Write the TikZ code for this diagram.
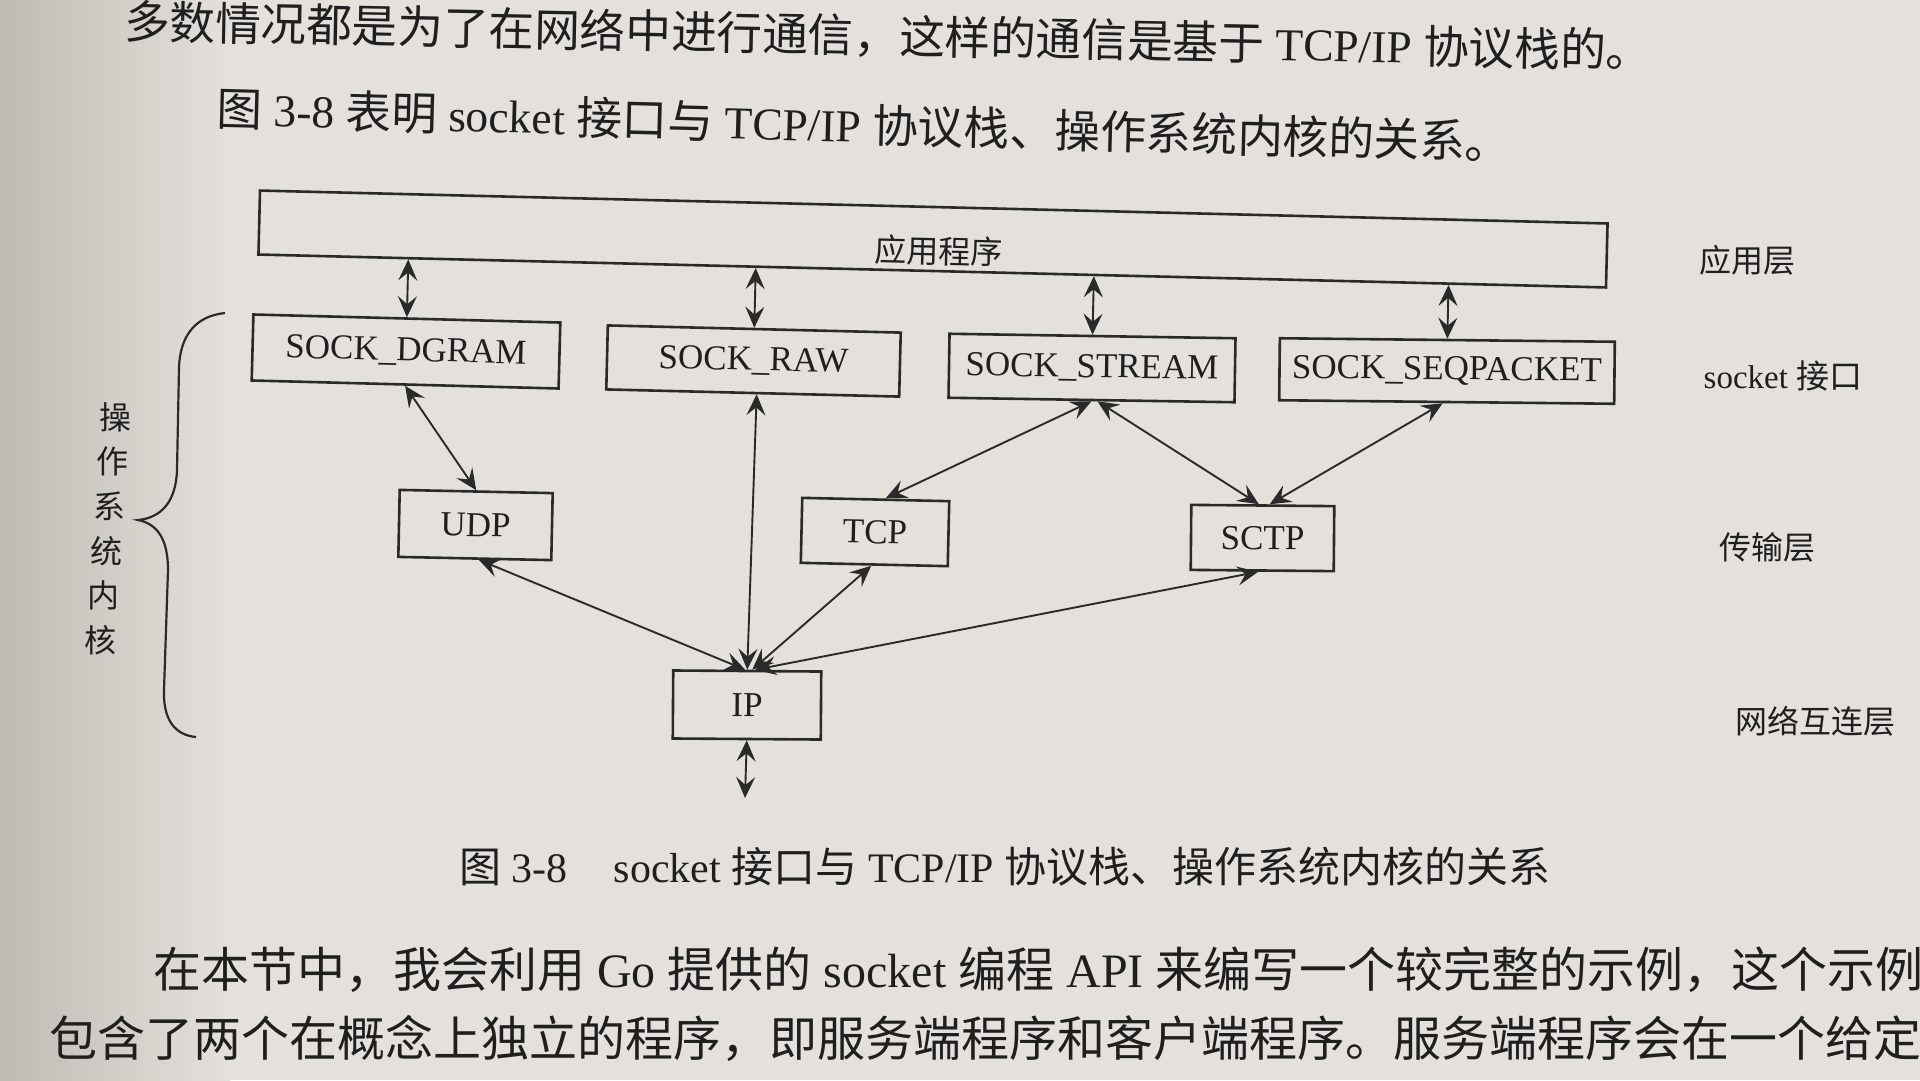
\documentclass[tikz,border=0pt]{standalone}
\usepackage{fontspec}
\setmainfont{Liberation Serif}
\newfontfamily\cjk{Noto Sans CJK SC}
\usetikzlibrary{arrows.meta,calc}
\newcommand\zh[1]{{\cjk #1}}
\newcommand\fsz[1]{\fontsize{#1}{#1}\selectfont}
\definecolor{paper}{HTML}{E4E1DC}
\definecolor{paperdark}{HTML}{BFBAB4}
\definecolor{ink}{HTML}{1F1F1F}
\definecolor{linec}{HTML}{2A2A2A}
\begin{document}
\begin{tikzpicture}[x=1pt,y=-1pt,
  box/.style={draw=linec, line width=2.6pt, inner sep=0pt, text=ink, font=\fsz{35}},
  txt/.style={inner sep=0pt, text=ink},
  dar/.style={draw=linec, line width=1.9pt, >={Stealth[length=21pt,width=19pt,inset=8pt]}, <->}]
\useasboundingbox (0,0) rectangle (1920,1080);
\begin{scope}
\clip (0,0) rectangle (1920,1080);
\fill[paper] (0,0) rectangle (1920,1080);
\shade[left color=paperdark, right color=paper] (0,0) rectangle (230,1080);

% body text
\node[txt, font=\fsz{45.6}, rotate=-1.1] (l1) at (888,36)
  {\zh{多数情况都是为了在网络中进行通信，这样的通信是基于} TCP/IP \zh{协议栈的。}};
\node[txt, font=\fsz{45.6}, rotate=-1.5] (l2) at (864,125)
  {\zh{图} 3-8 \zh{表明} socket \zh{接口与} TCP/IP \zh{协议栈、操作系统内核的关系。}};

% boxes
\node[box, minimum width=1348pt, minimum height=64pt, rotate=-1.4] (app) at (933,239) {};
\node[txt, font={\cjk\fsz{32}}, rotate=-1.4] (applbl) at (939,251) {应用程序};
\node[box, minimum width=307pt, minimum height=66pt, rotate=-1.5] (dg) at (406,351.5) {\raisebox{-3pt}{SOCK\_DGRAM}};
\node[box, minimum width=293pt, minimum height=64pt, rotate=-1.4] (raw) at (753.5,361) {\raisebox{-3pt}{SOCK\_RAW}};
\node[box, minimum width=286pt, minimum height=64pt, rotate=-0.9] (st) at (1092,368) {\raisebox{-3pt}{SOCK\_STREAM}};
\node[box, minimum width=335pt, minimum height=62pt, rotate=-0.6] (seq) at (1447,371) {\raisebox{-3pt}{SOCK\_SEQPACKET}};
\node[box, minimum width=153pt, minimum height=67pt, rotate=-1.2] (udp) at (475.5,525) {UDP};
\node[box, minimum width=147pt, minimum height=65pt, rotate=-1.3] (tcp) at (875,532) {TCP};
\node[box, minimum width=143pt, minimum height=65pt, rotate=-0.5] (sctp) at (1262.5,538) {SCTP};
\node[box, minimum width=148pt, minimum height=68pt, rotate=-0.4] (ip) at (747,705) {IP};

% connectors
\draw[dar] ($(app.south west)!(dg.north)!(app.south east)$) -- (dg.north);
\draw[dar] ($(app.south west)!(raw.north)!(app.south east)$) -- (raw.north);
\draw[dar] ($(app.south west)!(st.north)!(app.south east)$) -- (st.north);
\draw[dar] ($(app.south west)!(seq.north)!(app.south east)$) -- (seq.north);
\draw[dar] (dg.south) -- (udp.north);
\draw[dar] ([xshift=4pt]raw.south) -- (ip.north);
\draw[dar] ([xshift=4pt]udp.south) -- ([xshift=-2pt]ip.north);
\draw[dar] ([xshift=-3pt]tcp.south) -- ([xshift=5pt]ip.north);
\draw[dar] ([xshift=-4pt]sctp.south) -- ([xshift=8pt]ip.north);
\draw[dar] (st.south) -- ([xshift=10pt]tcp.north);
\draw[dar] ([xshift=6pt]st.south) -- ([xshift=-4pt]sctp.north);
\draw[dar] ([xshift=-4pt]seq.south) -- ([xshift=7pt]sctp.north);
\coordinate (ipdown) at (745,798);
\draw[dar] (ip.south) -- (ipdown);

% brace and side text
\draw[linec, line width=2.2pt]
  (225,313) .. controls (196,316) and (180,335) .. (179,368)
  -- (177,470) .. controls (176,503) and (160,518) .. (138,520)
  .. controls (158,524) and (168,540) .. (168,570)
  -- (164,690) .. controls (163,720) and (175,735) .. (196,737);
\foreach \c [count=\i from 0] in {操,作,系,统,内,核}
  \node[txt, font={\cjk\fsz{32}}] (v\i) at ({115-3*\i},{417+44.6*\i}) {\c};

% layer labels
\node[txt, font={\cjk\fsz{32}}] (lapp) at (1747,260) {应用层};
\node[txt, font=\fsz{33}] (lsock) at (1783,376) {socket \zh{接口}};
\node[txt, font={\cjk\fsz{32}}] (ltr) at (1767,547) {传输层};
\node[txt, font={\cjk\fsz{32}}] (lnet) at (1815,721) {网络互连层};

% caption
\node[txt, font=\fsz{42}, anchor=west] (cap) at (459,867)
  {\zh{图} 3-8\hspace{1.1em}socket \zh{接口与} TCP/IP \zh{协议栈、操作系统内核的关系}};

% following text
\node[txt, font=\fsz{48}, anchor=west] (b1) at (153,970)
  {\zh{在本节中，我会利用} Go \zh{提供的} socket \zh{编程} API \zh{来编写一个较完整的示例，这个示例}};
\node[txt, font=\fsz{48}, anchor=west] (b2) at (49,1038)
  {\zh{包含了两个在概念上独立的程序，即服务端程序和客户端程序。服务端程序会在一个给定}};
\end{scope}
\end{tikzpicture}
\end{document}
